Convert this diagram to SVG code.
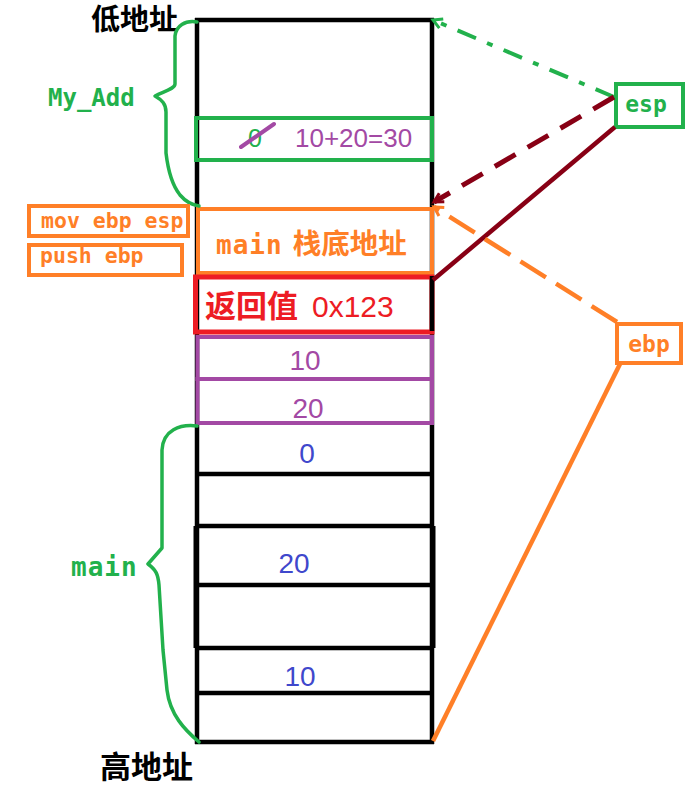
<svg xmlns="http://www.w3.org/2000/svg" width="694" height="797" viewBox="0 0 694 797">
<style>
.blk{stroke:#000;stroke-width:4.5;fill:none}
.mono{font-family:"DejaVu Sans Mono","Liberation Mono",monospace;font-weight:bold}
.sans{font-family:"Liberation Sans",Arial,sans-serif}
.cjk{font-family:"Noto Sans CJK SC","Noto Sans",sans-serif;font-weight:bold}
.g{fill:#22b14c}.o{fill:#ff7f27}.p{fill:#a349a4}.r{fill:#ed1c24}.b{fill:#3f48cc}
.brace{fill:none;stroke:#22b14c;stroke-width:3.5;stroke-linejoin:round;stroke-linecap:round}
</style>
<defs>
<marker id="mg" markerUnits="userSpaceOnUse" markerWidth="20" markerHeight="20" refX="0" refY="0" viewBox="-12 -10 14 20" orient="auto"><path d="M-9,-5 L0,0 L-9,5" fill="none" stroke="#22b14c" stroke-width="3"/></marker>
<marker id="mr" markerUnits="userSpaceOnUse" markerWidth="20" markerHeight="20" refX="0" refY="0" viewBox="-12 -10 14 20" orient="auto"><path d="M-9,-5 L0,0 L-9,5" fill="none" stroke="#880015" stroke-width="3"/></marker>
<marker id="mo" markerUnits="userSpaceOnUse" markerWidth="20" markerHeight="20" refX="0" refY="0" viewBox="-12 -10 14 20" orient="auto"><path d="M-9,-5 L0,0 L-9,5" fill="none" stroke="#ff7f27" stroke-width="3"/></marker>
</defs>
<rect width="694" height="797" fill="#fff"/>

<g id="stack">
<line class="blk" x1="195" y1="20" x2="434" y2="20"/>
<line class="blk" x1="197" y1="18" x2="197" y2="744"/>
<line class="blk" x1="432" y1="18" x2="432" y2="744"/>
<line class="blk" x1="195" y1="474" x2="434" y2="474"/>
<line class="blk" x1="195" y1="526" x2="434" y2="526"/>
<line class="blk" x1="195" y1="585" x2="434" y2="585"/>
<line class="blk" x1="195" y1="648" x2="434" y2="648"/>
<line class="blk" x1="195" y1="693" x2="434" y2="693"/>
<line class="blk" x1="195" y1="742" x2="434" y2="742"/>
<line class="blk" x1="195" y1="526" x2="195" y2="648" style="stroke-width:3"/>
<line class="blk" x1="434" y1="526" x2="434" y2="648" style="stroke-width:3"/>
</g>

<g id="slot-sum">
<rect x="196" y="118" width="236" height="42" fill="none" stroke="#22b14c" stroke-width="4"/>
<text class="sans g" x="248" y="147" font-size="25">0</text>
<line x1="241" y1="147" x2="274" y2="124" stroke="#a349a4" stroke-width="4" stroke-linecap="round"/>
<text class="sans p" x="295" y="147" font-size="26">10+20=30</text>
</g>

<g id="slot-ebp">
<rect x="198" y="209" width="234" height="64" fill="none" stroke="#ff7f27" stroke-width="4"/>
<text class="o" x="216" y="254" font-size="26"><tspan class="mono" letter-spacing="1">main</tspan><tspan class="cjk" dx="10" font-size="28.5" font-weight="500">栈底地址</tspan></text>
</g>

<g id="slot-ret">
<rect x="195.5" y="277" width="236.5" height="55" fill="none" stroke="#ed1c24" stroke-width="5"/>
<line class="blk" x1="432" y1="276" x2="432" y2="331"/>
<text class="r" x="205" y="317"><tspan class="cjk" font-size="31">返回值</tspan><tspan class="sans" dx="14" font-size="30">0x123</tspan></text>
</g>

<g id="slot-arg10">
<rect x="197.5" y="337" width="234.5" height="42" fill="none" stroke="#a349a4" stroke-width="4"/>
<text class="sans p" x="305" y="370" font-size="28" text-anchor="middle">10</text>
</g>
<g id="slot-arg20">
<rect x="197.5" y="379" width="234.5" height="44" fill="none" stroke="#a349a4" stroke-width="4"/>
<text class="sans p" x="308" y="418" font-size="28" text-anchor="middle">20</text>
</g>

<g id="main-values">
<text class="sans b" x="307" y="463" font-size="28" text-anchor="middle">0</text>
<text class="sans b" x="294" y="573" font-size="28" text-anchor="middle">20</text>
<text class="sans b" x="300" y="686" font-size="28" text-anchor="middle">10</text>
</g>

<g id="addr-labels">
<text class="cjk" x="91" y="30" font-size="29" fill="#000">低地址</text>
<text class="cjk" x="100" y="778" font-size="31" fill="#000">高地址</text>
</g>

<g id="brace-myadd">
<path class="brace" d="M197,22 C185,20 176,26 175,36 L175,84 C175,88 168,90 155,96 C162,100 166,104 166,112 L166,153 C168,170 172,185 180,195 C186,202 192,205 199,206"/>
<text class="mono g" x="48" y="106" font-size="24">My_Add</text>
</g>
<g id="brace-main">
<path class="brace" d="M197,426 C180,424 163,430 162,450 L162,548 L148,564 C156,570 158,574 159,585 L163,650 L167,690 C170,715 185,730 199,742"/>
<text class="mono g" x="71" y="576" font-size="26" letter-spacing="1">main</text>
</g>

<g id="instr-mov">
<rect x="29" y="206" width="159" height="30" fill="none" stroke="#ff7f27" stroke-width="4"/>
<text class="mono o" x="41" y="228" font-size="21.5">mov ebp esp</text>
</g>
<g id="instr-push">
<rect x="29" y="245" width="153" height="30" fill="none" stroke="#ff7f27" stroke-width="4"/>
<text class="mono o" x="40" y="263" font-size="21.5">push ebp</text>
</g>

<g id="reg-esp">
<rect x="616" y="84" width="67" height="43" fill="none" stroke="#22b14c" stroke-width="4"/>
<text class="mono g" x="646" y="112" font-size="23" text-anchor="middle">esp</text>
</g>
<g id="reg-ebp">
<rect x="617" y="324" width="64" height="39" fill="none" stroke="#ff7f27" stroke-width="4"/>
<text class="mono o" x="649" y="352" font-size="23" text-anchor="middle">ebp</text>
</g>

<g id="connectors" fill="none">
<line x1="614" y1="97" x2="433" y2="20" stroke="#22b14c" stroke-width="4" stroke-dasharray="20 12 6 12" marker-end="url(#mg)"/>
<line x1="614" y1="97" x2="434" y2="202" stroke="#880015" stroke-width="5" stroke-dasharray="24 14" marker-end="url(#mr)"/>
<line x1="615" y1="127" x2="433" y2="280" stroke="#880015" stroke-width="4.5"/>
<line x1="617" y1="322" x2="434" y2="207" stroke="#ff7f27" stroke-width="4.5" stroke-dasharray="30 12" marker-end="url(#mo)"/>
<line x1="620" y1="364" x2="433" y2="741" stroke="#ff7f27" stroke-width="4.5"/>
</g>
</svg>
